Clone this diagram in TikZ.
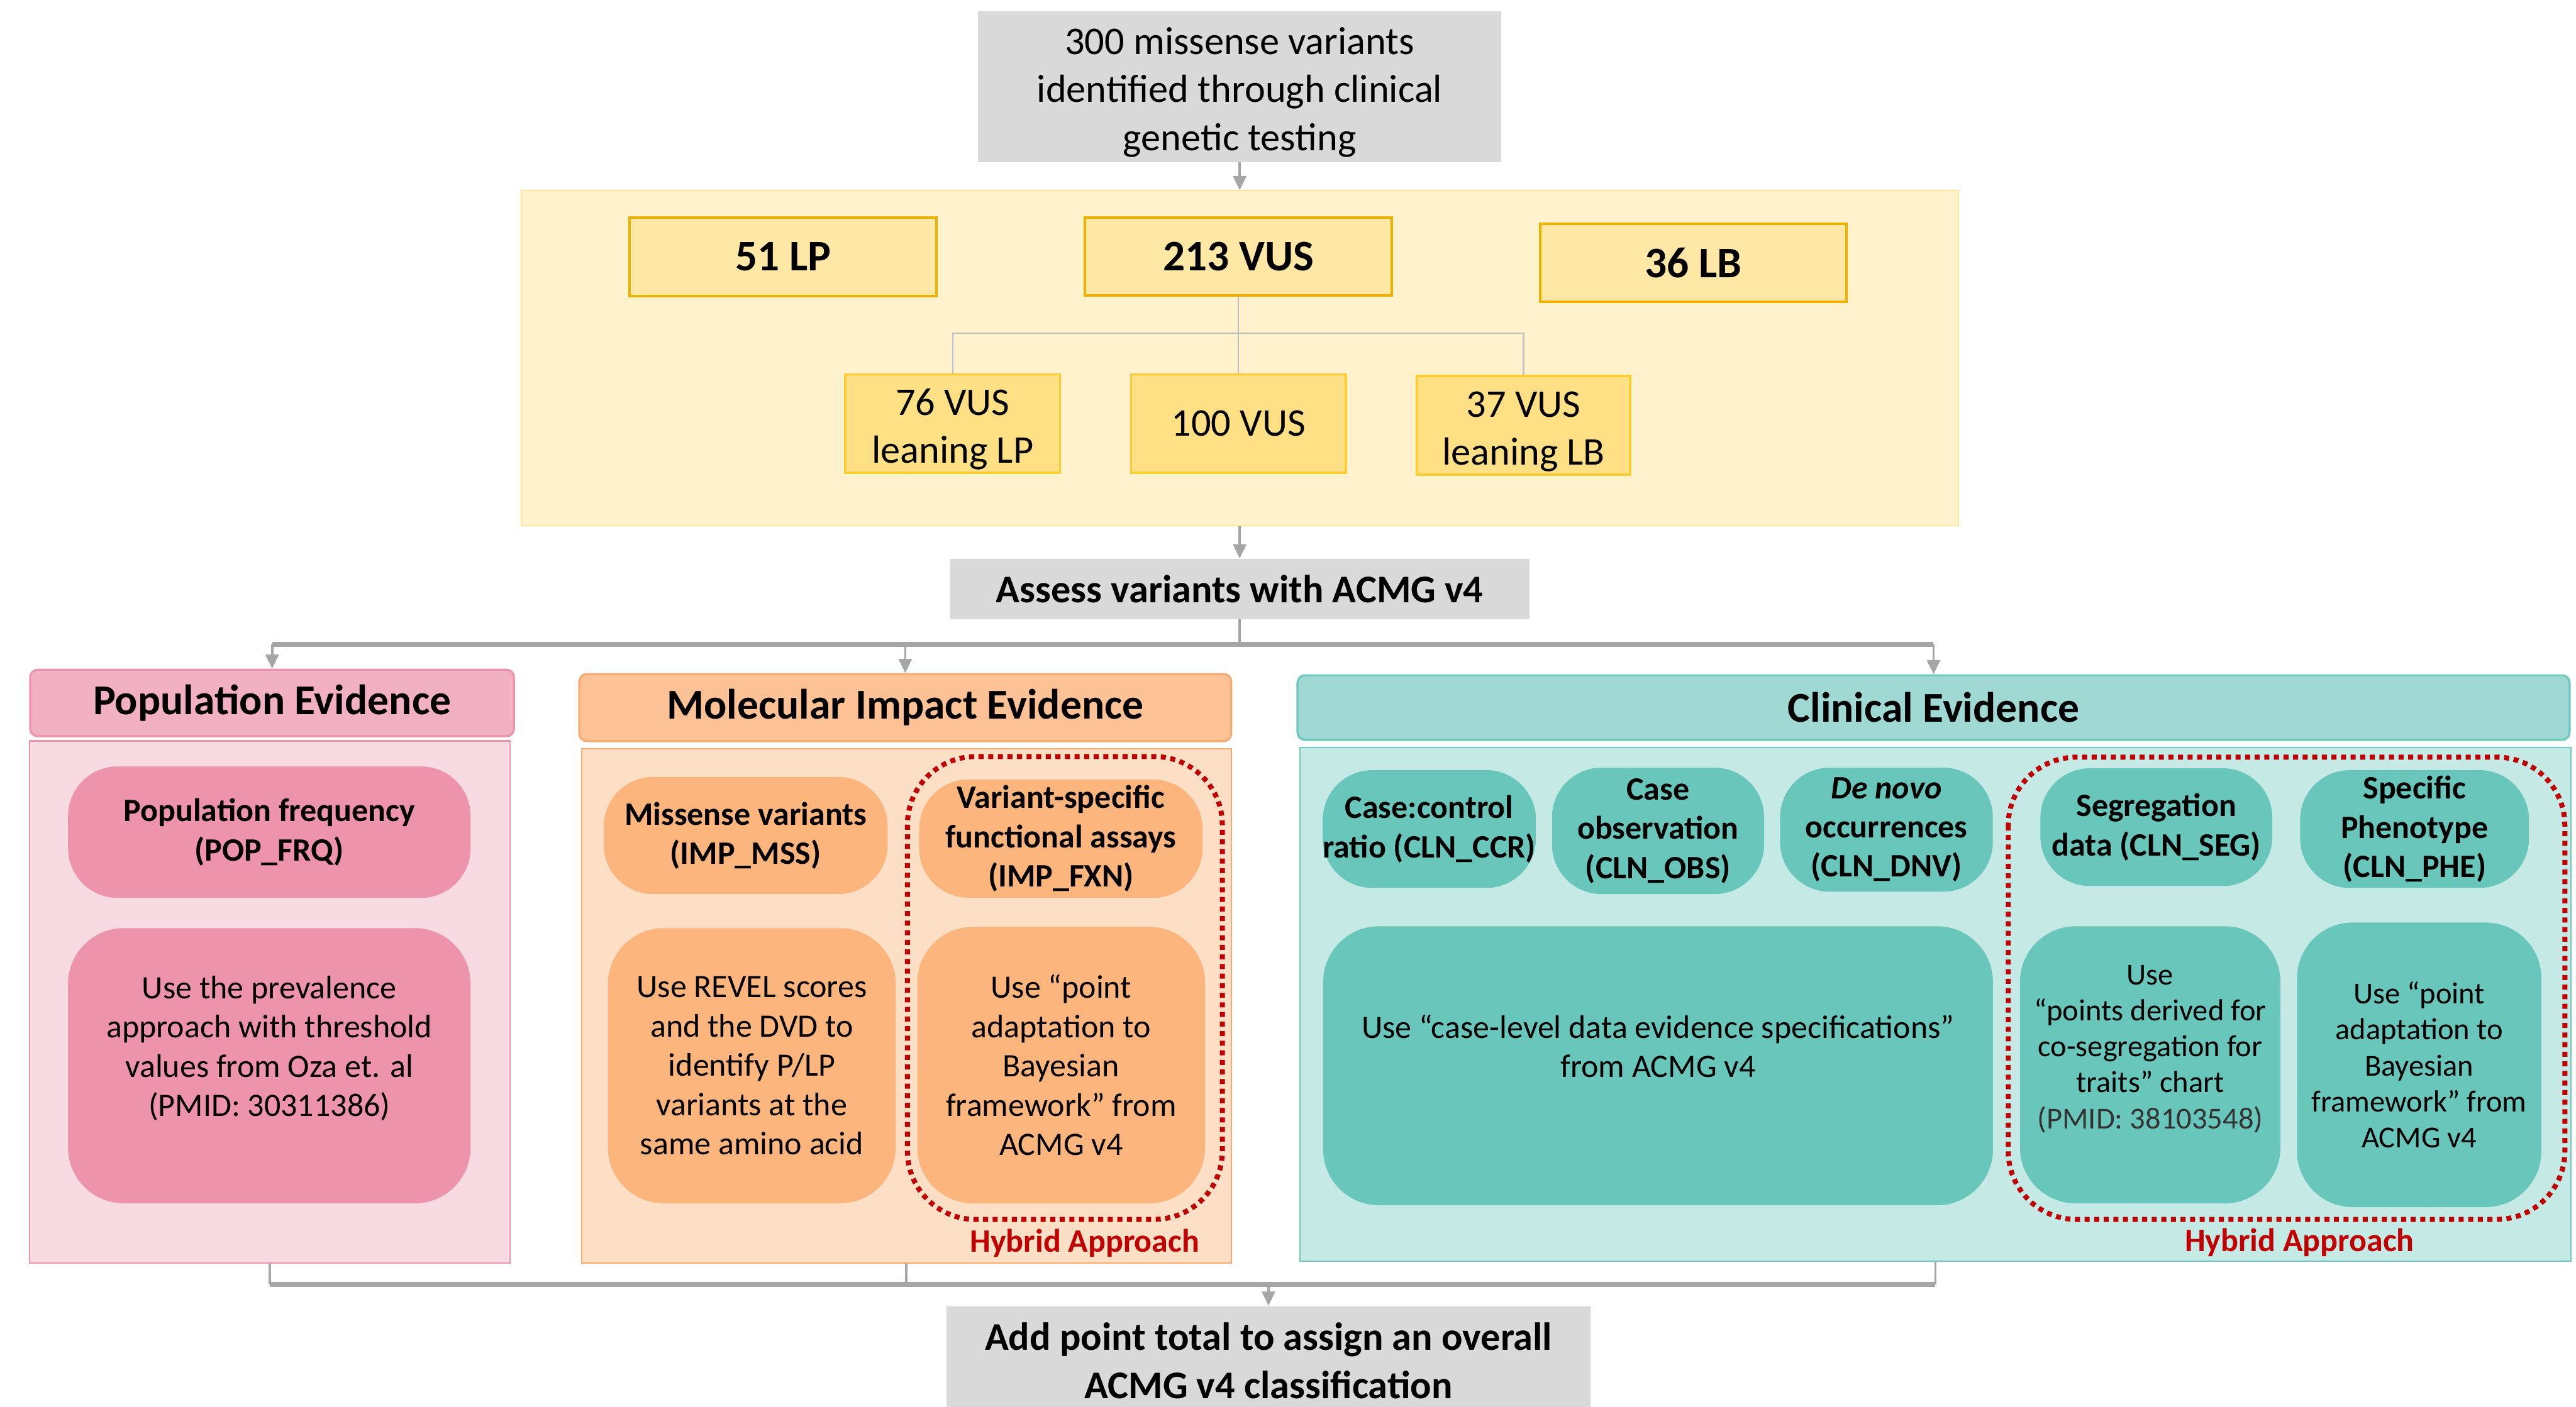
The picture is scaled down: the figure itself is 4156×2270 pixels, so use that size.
\documentclass[tikz,border=0pt]{standalone}
\usepackage{fontspec}
\setmainfont{Carlito}
\usetikzlibrary{arrows.meta}

\definecolor{boxgray}{HTML}{D9D9D9}
\definecolor{tierfill}{HTML}{FFF2CC}
\definecolor{tierline}{HTML}{FFE699}
\definecolor{goldfill}{HTML}{FFE8A6}
\definecolor{goldline}{HTML}{EDB200}
\definecolor{subfill}{HTML}{FFE084}
\definecolor{subline}{HTML}{FFCC33}
\definecolor{treegray}{HTML}{BFBFBF}
\definecolor{linkgray}{HTML}{A6A6A6}
\definecolor{pophead}{HTML}{F2B1C3}
\definecolor{popline}{HTML}{EE95AE}
\definecolor{poppanel}{HTML}{F8DAE2}
\definecolor{popitem}{HTML}{EE93AC}
\definecolor{molhead}{HTML}{FCC194}
\definecolor{molline}{HTML}{F6AC72}
\definecolor{molpanel}{HTML}{FDDFC6}
\definecolor{molitem}{HTML}{FDB57E}
\definecolor{clinhead}{HTML}{A0D9D3}
\definecolor{clinline}{HTML}{6FCABD}
\definecolor{clinpanel}{HTML}{C5E9E5}
\definecolor{clinitem}{HTML}{69C6BA}
\definecolor{hybred}{HTML}{C00000}
\definecolor{pmidgray}{HTML}{333333}

\newcommand{\upstrut}{\rule{0pt}{17.5pt}}

\begin{document}
\begin{tikzpicture}[
  x = 0.01cm, y = -0.01cm,
  every node/.style = {align = center, inner sep = 0pt},
  wh/.style 2 args = {minimum width = #1cm, minimum height = #2cm},
  graybox/.style = {fill = boxgray, font = \fontsize{18}{22}\selectfont},
  countbox/.style = {draw = goldline, fill = goldfill, line width = 1.2pt,
                     font = \bfseries\fontsize{20}{24}\selectfont},
  subbox/.style = {draw = subline, fill = subfill, line width = 1pt,
                   font = \fontsize{18}{22}\selectfont},
  headbox/.style = {rounded corners = 0.12cm, line width = 1pt,
                    font = \bfseries\fontsize{19.5}{23}\selectfont},
  panelbox/.style = {line width = 0.6pt},
  itembox/.style = {rounded corners = 0.8cm, font = \bfseries\fontsize{15}{18}\selectfont},
  usebox/.style = {rounded corners = 0.9cm, font = \fontsize{15}{18}\selectfont},
  smallbox/.style = {usebox, font = \fontsize{14}{16.5}\selectfont},
  hybridline/.style = {draw = hybred, line width = 2.3pt, dash pattern = on 2.3pt off 2.1pt,
                       rounded corners = 1.1cm},
  hybridtext/.style = {text = hybred, font = \bfseries\fontsize{15}{18}\selectfont},
  linkline/.style = {draw = linkgray, line width = 1.1pt},
  arrowline/.style = {linkline, -{Triangle[length = 6.5pt, width = 6pt]}},
  barline/.style = {draw = linkgray, line width = 2.3pt},
  treeline/.style = {draw = treegray, line width = 0.6pt},
  ]
  \useasboundingbox (0,0) rectangle (4156,2270);

  \node[graybox, wh = {8.43}{2.43}] (source) at (2000,140)
    {\upstrut 300 missense variants\\identified through clinical\\genetic testing};
  \node[panelbox, draw = tierline, fill = tierfill, wh = {23.17}{5.40}] (tiers) at (2000,578) {};
  \node[countbox, wh = {4.95}{1.27}] (lp) at (1263.5,414.5) {51 LP};
  \node[countbox, wh = {4.95}{1.26}] (vus) at (1998,414) {213 VUS};
  \node[countbox, wh = {4.94}{1.26}] (lb) at (2732,424) {36 LB};
  \node[subbox, wh = {3.46}{1.59}] (vuslp) at (1537,683.5) {\upstrut 76 VUS\\leaning LP};
  \node[subbox, wh = {3.46}{1.59}] (vusmid) at (1998,683.5) {100 VUS};
  \node[subbox, wh = {3.44}{1.59}] (vuslb) at (2458,686.5) {\upstrut 37 VUS\\leaning LB};
  \coordinate (split) at (1998,538);
  \draw[treeline] (vus.south) -- (vusmid.north);
  \draw[treeline] (vuslp) |- (split) -| (vuslb);
  \draw[arrowline] (source) -- (tiers);

  \node[graybox, font = \bfseries\fontsize{18}{22}\selectfont, wh = {9.34}{0.97}] (assess)
    at (2000,950.5) {Assess variants with ACMG v4};
  \draw[arrowline] (tiers) -- (assess);

  \node[headbox, draw = popline, fill = pophead, wh = {7.80}{1.07}] (pophd) at (439,1134.5)
    {Population Evidence};
  \node[headbox, draw = molline, fill = molhead, wh = {10.51}{1.08}] (molhd) at (1460.5,1142)
    {Molecular Impact Evidence};
  \node[headbox, draw = clinline, fill = clinhead, wh = {20.51}{1.04}] (clinhd) at (3119.5,1142)
    {Clinical Evidence};
  \coordinate (fork) at (2000,1040);
  \draw[linkline] (assess) -- (fork);
  \draw[barline] (pophd.north |- fork) -- (clinhd.north |- fork);
  \foreach \h in {pophd, molhd, clinhd}
    \draw[arrowline] (\h.north |- fork) -- (\h.north);

  \node[panelbox, draw = popline, fill = poppanel, wh = {7.75}{8.42}] (poppn) at (435.5,1617) {};
  \node[panelbox, draw = molline, fill = molpanel, wh = {10.47}{8.29}] (molpn) at (1462.5,1623.5) {};
  \node[panelbox, draw = clinline, fill = clinpanel, wh = {20.49}{8.28}] (clinpn) at (3122.5,1621) {};

  \node[itembox, fill = popitem, wh = {6.49}{2.12}] (popfrq) at (434.5,1343)
    {Population frequency\\(POP\_FRQ)};
  \node[usebox, fill = popitem, wh = {6.49}{4.44}] (popuse) at (434.5,1720)
    {Use the prevalence\\approach with threshold\\values from Oza et. al\\(PMID: 30311386)\\\mbox{}};

  \node[itembox, fill = molitem, wh = {4.58}{1.89}] (impmss) at (1203,1348.5)
    {Missense variants\\(IMP\_MSS)};
  \node[itembox, fill = molitem, wh = {4.57}{1.91}] (impfxn) at (1711.5,1353.5)
    {Variant-specific\\functional assays\\(IMP\_FXN)};
  \node[usebox, fill = molitem, wh = {4.64}{4.44}] (mssuse) at (1213,1720)
    {Use REVEL scores\\and the DVD to\\identify P/LP\\variants at the\\same amino acid};
  \node[usebox, fill = molitem, wh = {4.64}{4.46}] (fxnuse) at (1712,1719)
    {Use “point\\adaptation to\\Bayesian\\framework” from\\ACMG v4};
  \draw[hybridline] (1464,1221) rectangle (1972,1968);
  \node[hybridtext] (molhyb) at (1750,2006) {Hybrid Approach};

  \node[itembox, fill = clinitem, wh = {3.42}{1.90}] (ccr) at (2306,1338)
    {Case:control\\ratio (CLN\_CCR)};
  \node[itembox, fill = clinitem, wh = {3.42}{2.04}] (obs) at (2675,1341)
    {Case\\observation\\(CLN\_OBS)};
  \node[itembox, fill = clinitem, wh = {3.43}{2.00}] (dnv) at (3043.5,1339)
    {\textit{De novo}\\occurrences\\(CLN\_DNV)};
  \node[itembox, fill = clinitem, wh = {3.74}{1.90}] (seg) at (3479,1335)
    {Segregation\\data (CLN\_SEG)};
  \node[itembox, fill = clinitem, wh = {3.69}{1.90}] (phe) at (3895.5,1338)
    {Specific\\Phenotype\\(CLN\_PHE)};
  \node[usebox, fill = clinitem, wh = {10.80}{4.50}] (caseuse) at (2675,1720)
    {Use “case-level data evidence specifications”\\from ACMG v4\\\mbox{}};
  \node[smallbox, fill = clinitem, wh = {4.20}{4.47}] (seguse) at (3469,1718.5)
    {Use\\“points derived for\\co-segregation for\\traits” chart\\{\color{pmidgray}(PMID: 38103548)}\\\mbox{}};
  \node[smallbox, fill = clinitem, wh = {3.94}{4.59}] (pheuse) at (3903,1718.5)
    {Use “point\\adaptation to\\Bayesian\\framework” from\\ACMG v4};
  \draw[hybridline] (3240,1222) rectangle (4138,1968);
  \node[hybridtext] (clinhyb) at (3710,2005) {Hybrid Approach};

  \node[graybox, font = \bfseries\fontsize{18}{22}\selectfont, wh = {10.39}{1.76}] (total)
    at (2046.5,2196) {Add point total to assign an overall\\ACMG v4 classification};
  \coordinate (join) at (2046.5,2073);
  \foreach \p in {poppn, molpn, clinpn}
    \draw[linkline] (\p.south) -- (\p.south |- join);
  \draw[barline] (poppn.south |- join) -- (clinpn.south |- join);
  \draw[arrowline] (join) -- (total);
\end{tikzpicture}
\end{document}
